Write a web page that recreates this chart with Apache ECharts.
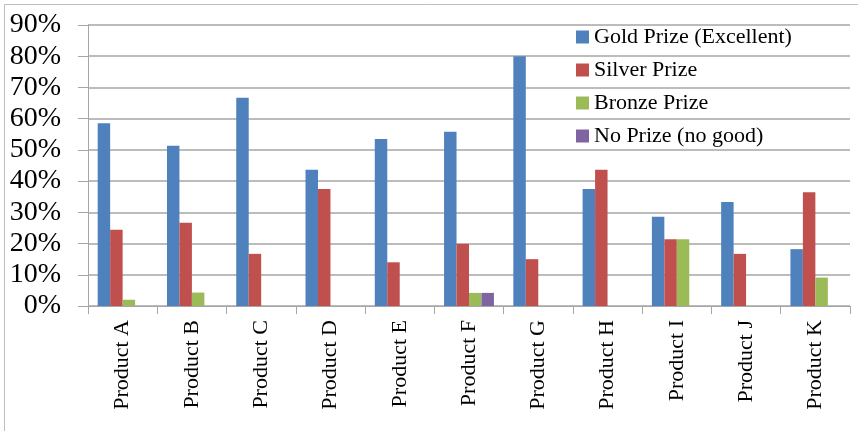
<!DOCTYPE html>
<html>
<head>
<meta charset="utf-8">
<script src="https://cdn.jsdelivr.net/npm/echarts@6/dist/echarts.min.js"></script>
<style>
html,body{margin:0;padding:0;background:#fff;}
#chart{width:858px;height:431px;}
</style>
</head>
<body>
<div id="chart"></div>
<script>
const categories = ['Product A','Product B','Product C','Product D','Product E','Product F','Product G','Product H','Product I','Product J','Product K'];
const seriesNames = ['Gold Prize (Excellent)','Silver Prize','Bronze Prize','No Prize (no good)'];
const gold   = [58.5, 51.3, 66.7, 43.6, 53.5, 55.8, 80.0, 37.5, 28.6, 33.3, 18.2];
const silver = [24.4, 26.7, 16.7, 37.5, 14.0, 19.9, 15.0, 43.6, 21.4, 16.7, 36.4];
const bronze = [2.0, 4.3, 0, 0, 0, 4.2, 0, 0, 21.4, 0, 9.1];
const none   = [0, 0, 0, 0, 0, 4.2, 0, 0, 0, 0, 0];
const yTicks = [0, 10, 20, 30, 40, 50, 60, 70, 80, 90];

const colors = ['#4F81BD','#C0504D','#9BBB59','#8064A2'];
const serif = 'Liberation Serif, Times New Roman, serif';
const chart = echarts.init(document.getElementById('chart'), null, {renderer:'canvas'});
const allData = [gold, silver, bronze, none];
chart.setOption({
  animation: false,
  color: colors,
  graphic: [{
    type: 'rect', z: -10,
    shape: {x: 4.5, y: 4.5, width: 870, height: 440},
    style: {fill: 'none', stroke: '#BFBFBF', lineWidth: 1}
  }],
  grid: {left: 88, right: 8, top: 25, bottom: 125, containLabel: false},
  legend: {
    orient: 'vertical', left: 576, top: 26, padding: 0,
    itemWidth: 13, itemHeight: 13, itemGap: 11,
    icon: 'rect',
    textStyle: {fontFamily: serif, fontSize: 22, color: '#000', lineHeight: 22},
    data: seriesNames
  },
  xAxis: {
    type: 'category', data: categories,
    axisLine: {lineStyle: {color: '#A6A6A6', width: 1}},
    axisTick: {show: true, length: 8, lineStyle: {color: '#A6A6A6'}},
    axisLabel: {rotate: 90, fontFamily: serif, fontSize: 22, color: '#000', margin: 14}
  },
  yAxis: {
    type: 'value', min: yTicks[0], max: yTicks[yTicks.length-1], interval: 10,
    axisLine: {show: true, lineStyle: {color: '#A6A6A6', width: 1}},
    axisTick: {show: true, length: 10, lineStyle: {color: '#A6A6A6'}},
    splitLine: {lineStyle: {color: '#A6A6A6', width: 1.5}},
    axisLabel: {fontFamily: serif, fontSize: 28, color: '#000', margin: 27, formatter: v => v + '%'}
  },
  series: seriesNames.map((n, i) => ({
    name: n, type: 'bar', data: allData[i],
    barGap: '0%', barCategoryGap: '28%',
    itemStyle: {color: colors[i]}
  }))
});
</script>
</body>
</html>
